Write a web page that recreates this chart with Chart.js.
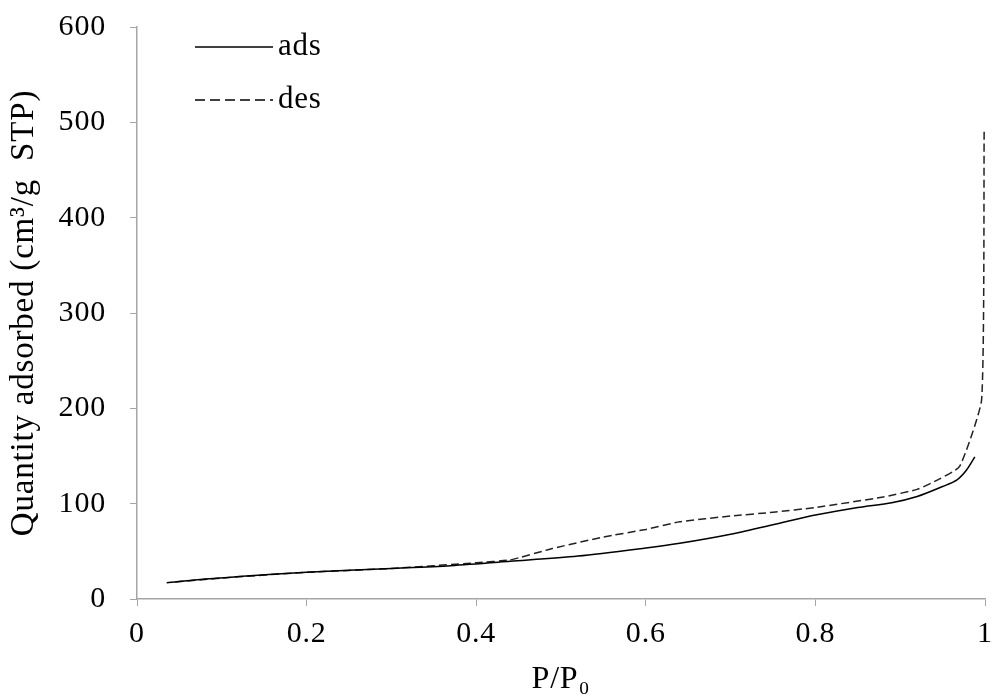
<!DOCTYPE html>
<html>
<head>
<meta charset="utf-8">
<script src="https://cdn.jsdelivr.net/npm/chart.js@4.4.1/dist/chart.umd.min.js"></script>
<style>
  html, body { margin: 0; padding: 0; background: #fff; }
  #wrap { width: 994px; height: 699px; }
</style>
</head>
<body>
<div id="wrap"><canvas id="isotherm"></canvas></div>
<script>
// relative pressure P/P0 and quantity adsorbed
const adsX = [0.035, 0.08, 0.12, 0.2, 0.3, 0.37, 0.44, 0.52, 0.6, 0.64, 0.7, 0.76, 0.8, 0.85, 0.89, 0.92, 0.95, 0.967, 0.978, 0.988]
const adsY = [17, 21, 23.5, 28, 32, 35, 39.5, 45, 53.5, 58.5, 68, 80, 88, 96, 101, 107.5, 118, 125, 135, 149]

const desX = [0.999, 0.996, 0.97, 0.94, 0.92, 0.88, 0.8, 0.75, 0.7, 0.64, 0.6, 0.55, 0.49, 0.44, 0.4, 0.3, 0.2, 0.1, 0.04]
const desY = [490, 209, 139, 123, 115, 107, 96, 91, 87, 81, 73, 65, 53, 41, 38, 32, 28, 22, 17.5]

const seriesNames = ['ads', 'des']
const xTicks = [0, 0.2, 0.4, 0.6, 0.8, 1]
const yTicks = [0, 100, 200, 300, 400, 500, 600]

const axisGray = '#a6a6a6'
const serif = "'Liberation Serif', 'Times New Roman', serif"

const toPoints = (xs, ys) => xs.map((x, i) => ({ x: x, y: ys[i] }))

// the original's lettering is a bit wider than plain Times
const spacing = {
    id: 'spacing',
    beforeLayout(chart) { chart.ctx.letterSpacing = '0.8px' },
    beforeDraw(chart) { chart.ctx.letterSpacing = '0.8px' }
}

// legend drawn inside the plot, top left
const insideLegend = {
    id: 'insideLegend',
    afterDraw(chart) {
        const ctx = chart.ctx
        const rows = [
            { name: seriesNames[0], dash: [], y: 47 },
            { name: seriesNames[1], dash: [10, 5], y: 100 }
        ]
        ctx.save()
        ctx.strokeStyle = '#000'
        ctx.lineWidth = 1.4
        ctx.fillStyle = '#000'
        ctx.font = '31px ' + serif
        ctx.textBaseline = 'middle'
        rows.forEach(r => {
            ctx.setLineDash(r.dash)
            ctx.beginPath()
            ctx.moveTo(195, r.y)
            ctx.lineTo(273, r.y)
            ctx.stroke()
            ctx.fillText(r.name, 278, r.y)
        })
        ctx.restore()
    }
}

const config = {
    type: 'line',
    data: {
        datasets: [{
            label: seriesNames[0],
            data: toPoints(adsX, adsY),
            borderColor: '#000',
            borderWidth: 1.5,
            pointRadius: 0,
            tension: 0.3,
            fill: false
        }, {
            label: seriesNames[1],
            data: toPoints(desX, desY),
            borderColor: '#222',
            borderWidth: 1.5,
            borderDash: [8, 4],
            pointRadius: 0,
            tension: 0.15,
            fill: false
        }]
    },
    options: {
        responsive: true,
        maintainAspectRatio: false,
        animation: false,
        layout: { padding: { top: 27, right: 9, left: 0, bottom: 0 } },
        plugins: {
            legend: { display: false },
            tooltip: { enabled: false }
        },
        scales: {
            x: {
                type: 'linear',
                min: 0,
                max: 1,
                afterBuildTicks: s => { s.ticks = xTicks.map(v => ({ value: v })) },
                afterFit: s => { s.height = 100; s.paddingRight = 0 },
                grid: { drawOnChartArea: false, tickLength: 7, color: axisGray },
                border: { color: axisGray, width: 1.5 },
                ticks: {
                    padding: 10,
                    color: '#000',
                    font: { family: serif, size: 30 },
                    callback: v => String(v)
                },
                title: {
                    display: true,
                    text: 'P/P\u2080',
                    color: '#000',
                    font: { family: serif, size: 32 },
                    padding: { top: 4, bottom: 0 }
                }
            },
            y: {
                min: 0,
                max: 600,
                afterBuildTicks: s => { s.ticks = yTicks.map(v => ({ value: v })) },
                afterFit: s => { s.width = 137; s.paddingTop = 0 },
                grid: { drawOnChartArea: false, tickLength: 7, color: axisGray },
                border: { color: axisGray, width: 1.5 },
                ticks: {
                    padding: 24,
                    color: '#000',
                    font: { family: serif, size: 30 }
                },
                title: {
                    display: true,
                    text: 'Quantity adsorbed (cm\u00b3/g  STP)',
                    color: '#000',
                    font: { family: serif, size: 33 },
                    padding: { top: 5, bottom: 0 }
                }
            }
        }
    },
    plugins: [spacing, insideLegend]
}

new Chart(document.getElementById('isotherm'), config)
</script>
</body>
</html>
